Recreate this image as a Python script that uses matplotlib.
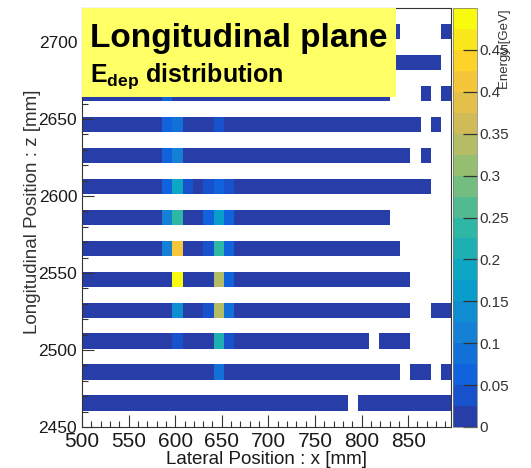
import numpy as np
import matplotlib
matplotlib.use("Agg")
import matplotlib.pyplot as plt
from matplotlib.colors import LinearSegmentedColormap, ListedColormap, BoundaryNorm
from matplotlib.patches import Rectangle
from matplotlib.ticker import MultipleLocator, FuncFormatter

plt.rcParams['font.family'] = ['Liberation Sans', 'DejaVu Sans']
plt.rcParams['mathtext.fontset'] = 'custom'
plt.rcParams['mathtext.bf'] = 'Liberation Sans:bold'
plt.rcParams['mathtext.rm'] = 'Liberation Sans'

# binning (mm): 36 lateral cells, 27 z bins where every other bin is a gap
x_lo, x_hi, n_x = 497.0, 896.6, 36
z_lo, z_hi, n_z = 2450.4, 2721.75, 27

# energy deposit per cell [GeV], one list per active layer, bottom -> top
# 0 means empty cell (not drawn)
edep = [
    [.01, .01, .01, .01, .01, .01, .01, .01, .01, .01, .01, .01, .01, .01, .01, .01, .01, .01,
     .01, .01, .01, .01, .01, .01, .01, .01, 0, .01, .01, .01, .01, .01, .01, .01, .01, .01],
    [.01, .01, .01, .01, .01, .01, .01, .01, .01, .01, .01, .01, .01, .085, .01, .01, .01, .01,
     .01, .01, .01, .01, .01, .01, .01, .01, .01, .01, .01, .01, .01, 0, .01, .01, 0, .01],
    [.01, .01, .01, .01, .01, .01, .01, .01, .01, .04, .01, .01, .01, .21, .04, .01, .01, .01,
     .01, .01, .01, .01, .01, .01, .01, .01, .01, .01, 0, .01, .01, .01, 0, 0, 0, 0],
    [.01, .01, .01, .01, .01, .01, .01, .01, .01, .135, .01, .01, .04, .335, .085, .01, .01, .01,
     .01, .01, .01, .01, .01, .01, .01, .01, .01, .01, .01, .01, .01, .01, 0, 0, .01, .01],
    [.01, .01, .01, .01, .01, .01, .01, .01, .01, .49, .01, .01, .01, .335, .06, .01, .01, .01,
     .01, .01, .01, .01, .01, .01, .01, .01, .01, .01, .01, .01, .01, .01, 0, 0, 0, 0],
    [.01, .01, .01, .01, .01, .01, .01, .01, .11, .41, .01, .01, .04, .235, .06, .01, .01, .01,
     .01, .01, .01, .01, .01, .01, .01, .01, .01, .01, .01, .01, .01, 0, 0, 0, 0, 0],
    [.01, .01, .01, .01, .01, .01, .01, .01, .11, .235, .01, .01, .06, .16, .06, .01, .01, .01,
     .01, .01, .01, .01, .01, .01, .01, .01, .01, .01, .01, .01, 0, 0, 0, 0, 0, 0],
    [.01, .01, .01, .01, .01, .01, .01, .01, .06, .185, .04, .01, .04, .06, .04, .01, .01, .01,
     .01, .01, .01, .01, .01, .01, .01, .01, .01, .01, .01, .01, .01, .01, .01, .01, 0, 0],
    [.01, .01, .01, .01, .01, .01, .01, .01, .06, .11, .01, .01, .01, .01, .01, .01, .01, .01,
     .01, .01, .01, .01, .01, .01, .01, .01, .01, .01, .01, .01, .01, .01, 0, .01, 0, 0],
    [.01, .01, .01, .01, .01, .01, .01, .01, .06, .085, .01, .01, .01, .04, .01, .01, .01, .01,
     .01, .01, .01, .01, .01, .01, .01, .01, .01, .01, .01, .01, .01, .01, .01, 0, .01, 0],
    [.01, .01, .01, .01, .01, .01, .01, .01, .06, .01, .01, .01, .01, .01, .01, .01, .01, .01,
     .01, .01, .01, .01, .01, .01, .01, .01, .01, .01, .01, .01, 0, 0, 0, .01, 0, .01],
    [.01, .01, .01, .01, .01, .01, .01, .01, .01, .01, .01, .01, .01, .01, .01, .01, .01, .01,
     .01, .01, .01, .01, .01, .01, .01, .01, .01, .01, .01, .01, .01, .01, .01, .01, .01, 0],
    [.01, .01, .01, .01, .01, .01, .01, .01, .01, .01, .01, .01, .01, .01, .01, .01, .01, .01,
     .01, .01, .01, .01, .01, .01, .01, .01, .01, .01, .01, .01, .01, 0, 0, 0, 0, .01],
]

cbar_ticks = [0, 0.05, 0.1, 0.15, 0.2, 0.25, 0.3, 0.35, 0.4, 0.45]
z_max = 0.5
n_levels = 20

# ROOT kBird palette, sampled the way COLZ picks 20 contour colours
bird_stops = [0.0, 0.125, 0.25, 0.375, 0.5, 0.625, 0.75, 0.875, 1.0]
bird_r = [0.2082, 0.0592, 0.0780, 0.0232, 0.1802, 0.5301, 0.8186, 0.9956, 0.9764]
bird_g = [0.1664, 0.3599, 0.5041, 0.6419, 0.7178, 0.7492, 0.7328, 0.7862, 0.9832]
bird_b = [0.5293, 0.8684, 0.8385, 0.7914, 0.6425, 0.4662, 0.3499, 0.1968, 0.0539]
bird = LinearSegmentedColormap.from_list(
    "bird", list(zip(bird_stops, zip(bird_r, bird_g, bird_b))), N=255)
idx = [int((j + 0.99) * 255 / n_levels) / 254 for j in range(n_levels)]
cmap = ListedColormap([bird(f) for f in idx])
norm = BoundaryNorm(np.linspace(0, z_max, n_levels + 1), n_levels)

x_edges = np.linspace(x_lo, x_hi, n_x + 1)
z_edges = np.linspace(z_lo, z_hi, n_z + 1)
grid = np.zeros((n_z, n_x))
for i, row in enumerate(edep):
    grid[2 * i + 1] = row
grid = np.ma.masked_equal(grid, 0)

W, H = 531, 468
fig = plt.figure(figsize=(W / 100, H / 100), dpi=100)
ax = fig.add_axes([82 / W, 41 / H, 369 / W, 419 / H])
cax = fig.add_axes([453 / W, 41 / H, 24 / W, 419 / H])

mesh = ax.pcolormesh(x_edges, z_edges, grid, cmap=cmap, norm=norm)
ax.set_xlim(500, 896)
ax.set_ylim(2450, 2722)

ax.xaxis.set_major_locator(MultipleLocator(50))
ax.xaxis.set_minor_locator(MultipleLocator(10))
ax.yaxis.set_major_locator(MultipleLocator(50))
ax.yaxis.set_minor_locator(MultipleLocator(10))
ax.tick_params(which='both', direction='in', top=False, right=False,
               color='#333333', width=0.8)
ax.tick_params(which='major', length=8.5)
ax.tick_params(which='minor', length=4.3)
ax.tick_params(axis='x', labelsize=15, pad=3.5, labelcolor='#1a1a1a')
ax.tick_params(axis='y', labelsize=12.5, pad=3.5, labelcolor='#1a1a1a')
for s in ax.spines.values():
    s.set_linewidth(0.8)
    s.set_color('#333333')

fig.text(266 / W, 1 - 459 / H, "Lateral Position : x [mm]", fontsize=13.5,
         ha='center', va='center', color='#1a1a1a')
fig.text(33 / W, 1 - 212 / H, "Longitudinal Position : z [mm]", fontsize=13.5,
         ha='center', va='center', rotation=90, color='#333333')

cb = fig.colorbar(mesh, cax=cax, ticks=cbar_ticks)
cb.ax.yaxis.set_major_formatter(FuncFormatter(lambda v, p: f"{v:g}"))
cb.ax.tick_params(direction='in', length=10, width=0.9, color='#333333',
                  labelsize=11, pad=1.5, labelcolor='#333333')
cb.ax.minorticks_off()
cb.outline.set_linewidth(0.5)
cb.outline.set_edgecolor('#777777')
fig.text(505 / W, 1 - 9 / H, "Energy [GeV]", fontsize=9.5, rotation=90,
         ha='center', va='top', color='#333333')

# title box
fig.add_artist(Rectangle((82 / W, 1 - 97 / H), (396 - 82) / W, (97 - 8) / H,
                         transform=fig.transFigure, facecolor='#ffff66',
                         edgecolor='none', zorder=5))
fig.text(90 / W, 1 - 47 / H, "Longitudinal plane", fontsize=24, weight='bold',
         va='baseline', ha='left', zorder=6)
fig.text(90 / W, 1 - 82 / H, r"$\mathbf{E}_{\mathbf{dep}}$ distribution",
         fontsize=18, weight='bold', va='baseline', ha='left', zorder=6)

fig.savefig("out.png", dpi=100)
